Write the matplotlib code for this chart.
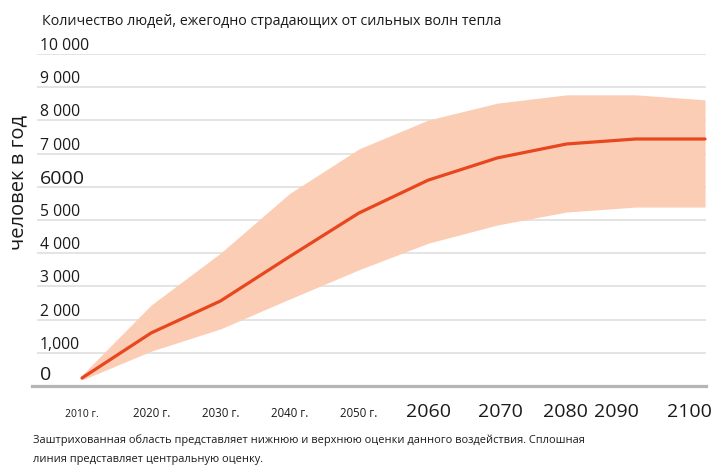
import matplotlib
matplotlib.use("Agg")
import matplotlib.pyplot as plt
import matplotlib.transforms as mtransforms

# ---- data ----
years = [2010, 2020, 2030, 2040, 2050, 2060, 2070, 2080, 2090, 2100]
central = [240, 1600, 2560, 3900, 5210, 6200, 6870, 7290, 7440, 7440]
upper = [330, 2440, 4000, 5800, 7140, 8010, 8520, 8770, 8770, 8620]
lower = [180, 1050, 1720, 2620, 3500, 4300, 4850, 5240, 5390, 5390]

y_ticks = [0, 1000, 2000, 3000, 4000, 5000, 6000, 7000, 8000, 9000, 10000]
y_tick_labels = ["0", "1,000", "2 000", "3 000", "4 000", "5 000", "6000",
                 "7 000", "8 000", "9 000", "10 000"]
x_tick_labels = ["2010 г.", "2020 г.", "2030 г.", "2040 г.", "2050 г.",
                 "2060", "2070", "2080", "2090", "2100"]
x_label_pos = [2010, 2020, 2030, 2040, 2050, 2060, 2070.4, 2079.8, 2087.2, 2097.8]

title = "Количество людей, ежегодно страдающих от сильных волн тепла"
y_title = "человек в год"
note1 = ("Заштрихованная область представляет нижнюю и верхнюю оценки данного "
         "воздействия. Сплошная")
note2 = "линия представляет центральную оценку."

# ---- figure ----
W, H = 718, 469
fig = plt.figure(figsize=(W / 100, H / 100), dpi=100)
ax = fig.add_axes([37 / W, (H - 386) / H, (706 - 37) / W, 332 / H])
ax.set_xlim(2003.5, 2100.14)
ax.set_ylim(0, 10000)
ax.axis("off")

band_col = "#FBCDB5"
line_col = "#E8461E"
grid_col = "#DCDCDC"

for v in y_ticks[1:]:
    ax.axhline(v, color=grid_col, lw=1.1, zorder=1)
ax.axhline(0, xmin=-0.008, xmax=1.0, color="#B5B5B5", lw=2.3, zorder=1,
           clip_on=False)

ax.fill_between(years, lower, upper, color=band_col, lw=0, zorder=2)
ax.plot(years, central, color=line_col, lw=2.3, zorder=3,
        solid_capstyle="round", clip_on=False)

sans = ["Open Sans", "DejaVu Sans"]

blend = mtransforms.blended_transform_factory(ax.transAxes, ax.transData)
for v, lab in zip(y_ticks, y_tick_labels):
    big = lab in ("6000", "0")
    dy = 6 if lab == "0" else (3 if big else 4)
    tr = blend + mtransforms.ScaledTranslation(3 / 100, dy / 100,
                                               fig.dpi_scale_trans)
    ax.text(0, v, lab, transform=tr, ha="left", va="baseline",
            fontsize=14 if big else 11.3, family=sans, color="#1a1a1a")

# x labels
xblend = mtransforms.blended_transform_factory(ax.transData, fig.transFigure)
for xp, lab in zip(x_label_pos, x_tick_labels):
    small = lab.endswith("г.")
    fs = 8.3 if small else 14
    if lab == "2010 г.":
        fs = 7.5
    ax.text(xp, (H - 417) / H, lab, transform=xblend, ha="center",
            va="baseline", fontsize=fs, family=sans, color="#1a1a1a")

fig.text(42 / W, (H - 25) / H, title, ha="left", va="baseline",
         fontsize=10.3, family=sans, color="#1a1a1a")
fig.text(18 / W, (H - 182) / H, y_title, rotation=90, ha="center",
         va="center", fontsize=14.5, family=sans, color="#1a1a1a")
fig.text(33 / W, (H - 443) / H, note1, ha="left", va="baseline",
         fontsize=7.95, family=sans, color="#1a1a1a")
fig.text(33 / W, (H - 462) / H, note2, ha="left", va="baseline",
         fontsize=7.95, family=sans, color="#1a1a1a")

fig.savefig("out.png", dpi=100)
